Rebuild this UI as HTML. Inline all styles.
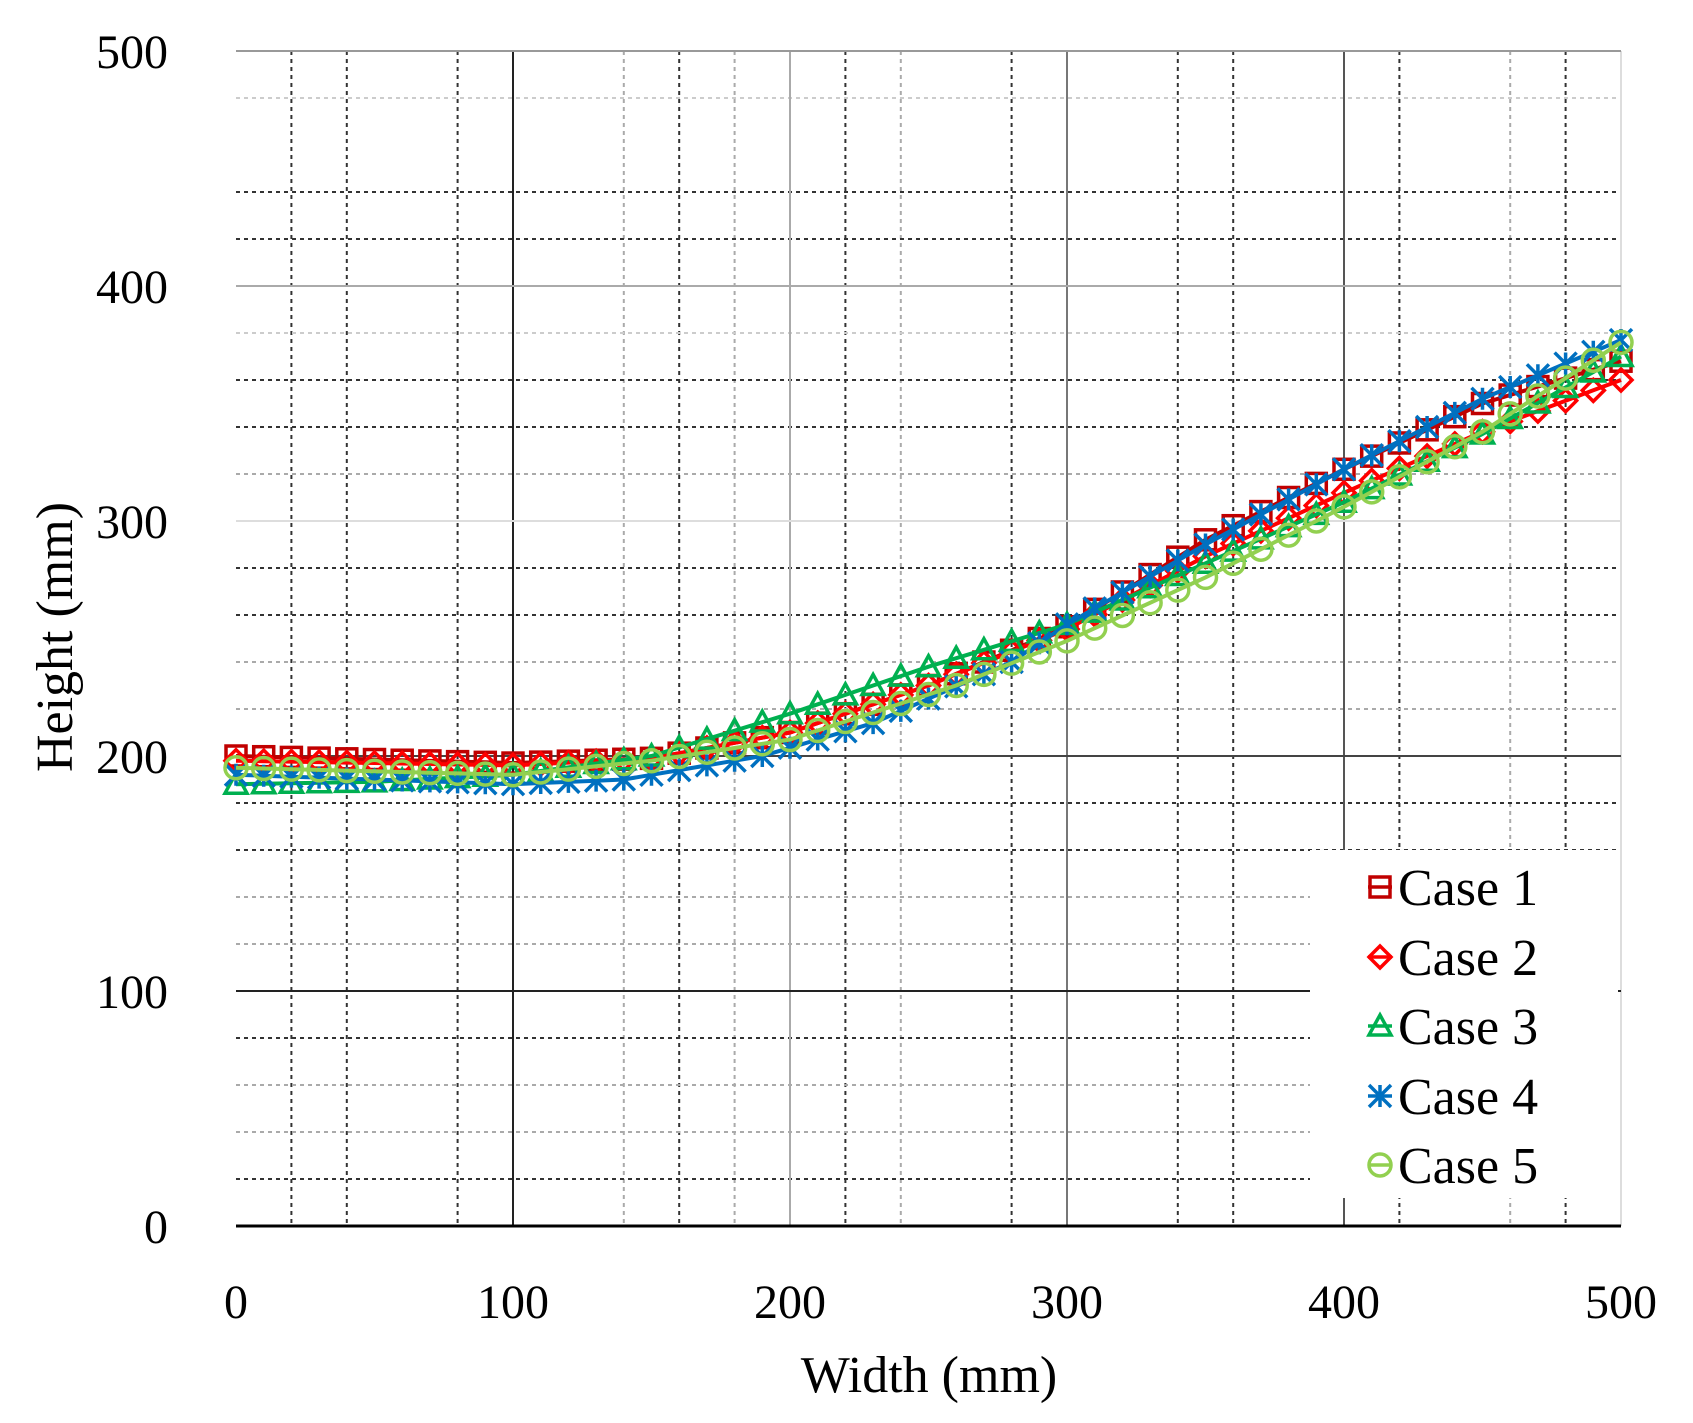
<!DOCTYPE html>
<html><head><meta charset="utf-8"><style>
html,body{margin:0;padding:0;background:#fff;}
svg{display:block;}
text{font-family:"Liberation Serif",serif;fill:#000;}
</style></head><body>
<svg id="c" width="1693" height="1423" xmlns="http://www.w3.org/2000/svg"></svg>
<script>
const X0=236,X1=1621,Y0=1226,Y1=51;
const sx=v=>X0+(X1-X0)*v/500, sy=v=>Y0-(Y0-Y1)*v/500;
let s='';
const vd={20:'#333',40:'#333',80:'#333',140:'#aaa',160:'#333',180:'#aaa',220:'#333',240:'#aaa',280:'#333',340:'#333',360:'#333',420:'#333',460:'#aaa',480:'#333'};
for(const k in vd){s+=`<line x1="${sx(k)}" y1="${Y1}" x2="${sx(k)}" y2="${Y0}" stroke="${vd[k]}" stroke-width="2" stroke-dasharray="4,4"/>`;}
const hd={480:'#ccc',440:'#333',420:'#333',380:'#ccc',360:'#333',340:'#333',320:'#aaa',280:'#333',260:'#333',240:'#aaa',220:'#aaa',180:'#333',160:'#333',140:'#aaa',120:'#aaa',80:'#333',60:'#aaa',40:'#aaa',20:'#333'};
for(const k in hd){s+=`<line x1="${X0}" y1="${sy(k)}" x2="${X1}" y2="${sy(k)}" stroke="${hd[k]}" stroke-width="2" stroke-dasharray="4,4"/>`;}
const vm={100:'#222',200:'#aaa',300:'#777',400:'#555',500:'#ddd'};
for(const k in vm){s+=`<line x1="${sx(k)}" y1="${Y1}" x2="${sx(k)}" y2="${Y0}" stroke="${vm[k]}" stroke-width="2"/>`;}
const hm={500:'#999',400:'#aaa',300:'#ddd',200:'#444',100:'#222'};
for(const k in hm){s+=`<line x1="${X0}" y1="${sy(k)}" x2="${X1}" y2="${sy(k)}" stroke="${hm[k]}" stroke-width="2"/>`;}
s+=`<line x1="${X0}" y1="${Y0}" x2="${X1}" y2="${Y0}" stroke="#000" stroke-width="3"/>`;
function interp(kp,x){for(let i=0;i<kp.length-1;i++){const [a,va]=kp[i],[b,vb]=kp[i+1];if(x>=a&&x<=b)return va+(vb-va)*(x-a)/(b-a);}return kp[kp.length-1][1];}
const series=[
 {c:'#c00000',m:'sq',kp:[[0,200],[100,197],[150,199],[200,210],[250,230],[300,255],[350,292],[400,322],[450,350],[500,368]]},
 {c:'#ff0000',m:'di',kp:[[0,198],[100,196],[150,199],[200,210],[250,230],[300,254],[350,285],[400,312],[450,338],[500,360]]},
 {c:'#00b050',m:'tr',kp:[[0,188],[50,189],[100,192],[150,200],[200,218],[250,238],[300,256],[350,282],[400,308],[450,337],[500,370]]},
 {c:'#0070c0',m:'x',kp:[[0,192],[100,188],[140,190],[190,200],[230,214],[280,240],[300,256],[350,290],[400,322],[450,352],[500,377]]},
 {c:'#92d050',m:'ci',kp:[[0,195],[100,192],[150,198],[200,207],[260,230],[300,249],[350,276],[400,306],[450,338],[500,376]]}
];
function marker(m,x,y,c){
 const r=11;
 if(m=='sq')return `<rect x="${x-r+1}" y="${y-r+1}" width="${2*r-2}" height="${2*r-2}" fill="none" stroke="${c}" stroke-width="3.5"/>`;
 if(m=='di')return `<polygon points="${x},${y-r} ${x+r},${y} ${x},${y+r} ${x-r},${y}" fill="none" stroke="${c}" stroke-width="3.5"/>`;
 if(m=='tr')return `<polygon points="${x},${y-r} ${x+r},${y+r-2} ${x-r},${y+r-2}" fill="none" stroke="${c}" stroke-width="3.5"/>`;
 if(m=='x')return `<path d="M${x-r} ${y-r}L${x+r} ${y+r}M${x-r} ${y+r}L${x+r} ${y-r}M${x} ${y-r}V${y+r}" stroke="${c}" stroke-width="3.5"/>`;
 return `<circle cx="${x}" cy="${y}" r="${r}" fill="none" stroke="${c}" stroke-width="3.5"/>`;
}
for(const se of series){
 let pts=[],mk='';
 for(let x=0;x<=500;x+=10){const px=sx(x),py=sy(interp(se.kp,x));pts.push(px.toFixed(1)+','+py.toFixed(1));mk+=marker(se.m,px,py,se.c);}
 s+=`<polyline points="${pts.join(' ')}" fill="none" stroke="${se.c}" stroke-width="4"/>`+mk;
}
s+=`<rect x="1310" y="850" width="308" height="348" fill="#fff"/>`;
const names=['Case 1','Case 2','Case 3','Case 4','Case 5'],ly=[887,957,1026,1096,1165];
series.forEach((se,i)=>{s+=`<line x1="1368" y1="${ly[i]}" x2="1392" y2="${ly[i]}" stroke="${se.c}" stroke-width="3.5"/>`+marker(se.m,1380,ly[i],se.c)+`<text x="1398" y="${ly[i]+18}" font-size="52">${names[i]}</text>`;});
for(let v=0;v<=500;v+=100){s+=`<text x="168" y="${sy(v)+17}" font-size="48" text-anchor="end">${v}</text>`;s+=`<text x="${sx(v)}" y="1318" font-size="48" text-anchor="middle">${v}</text>`;}
s+=`<text x="929" y="1392" font-size="52" text-anchor="middle">Width (mm)</text>`;
s+=`<text transform="translate(72,637) rotate(-90)" font-size="52" text-anchor="middle">Height (mm)</text>`;
document.getElementById('c').innerHTML=s;
</script>
</body></html>
